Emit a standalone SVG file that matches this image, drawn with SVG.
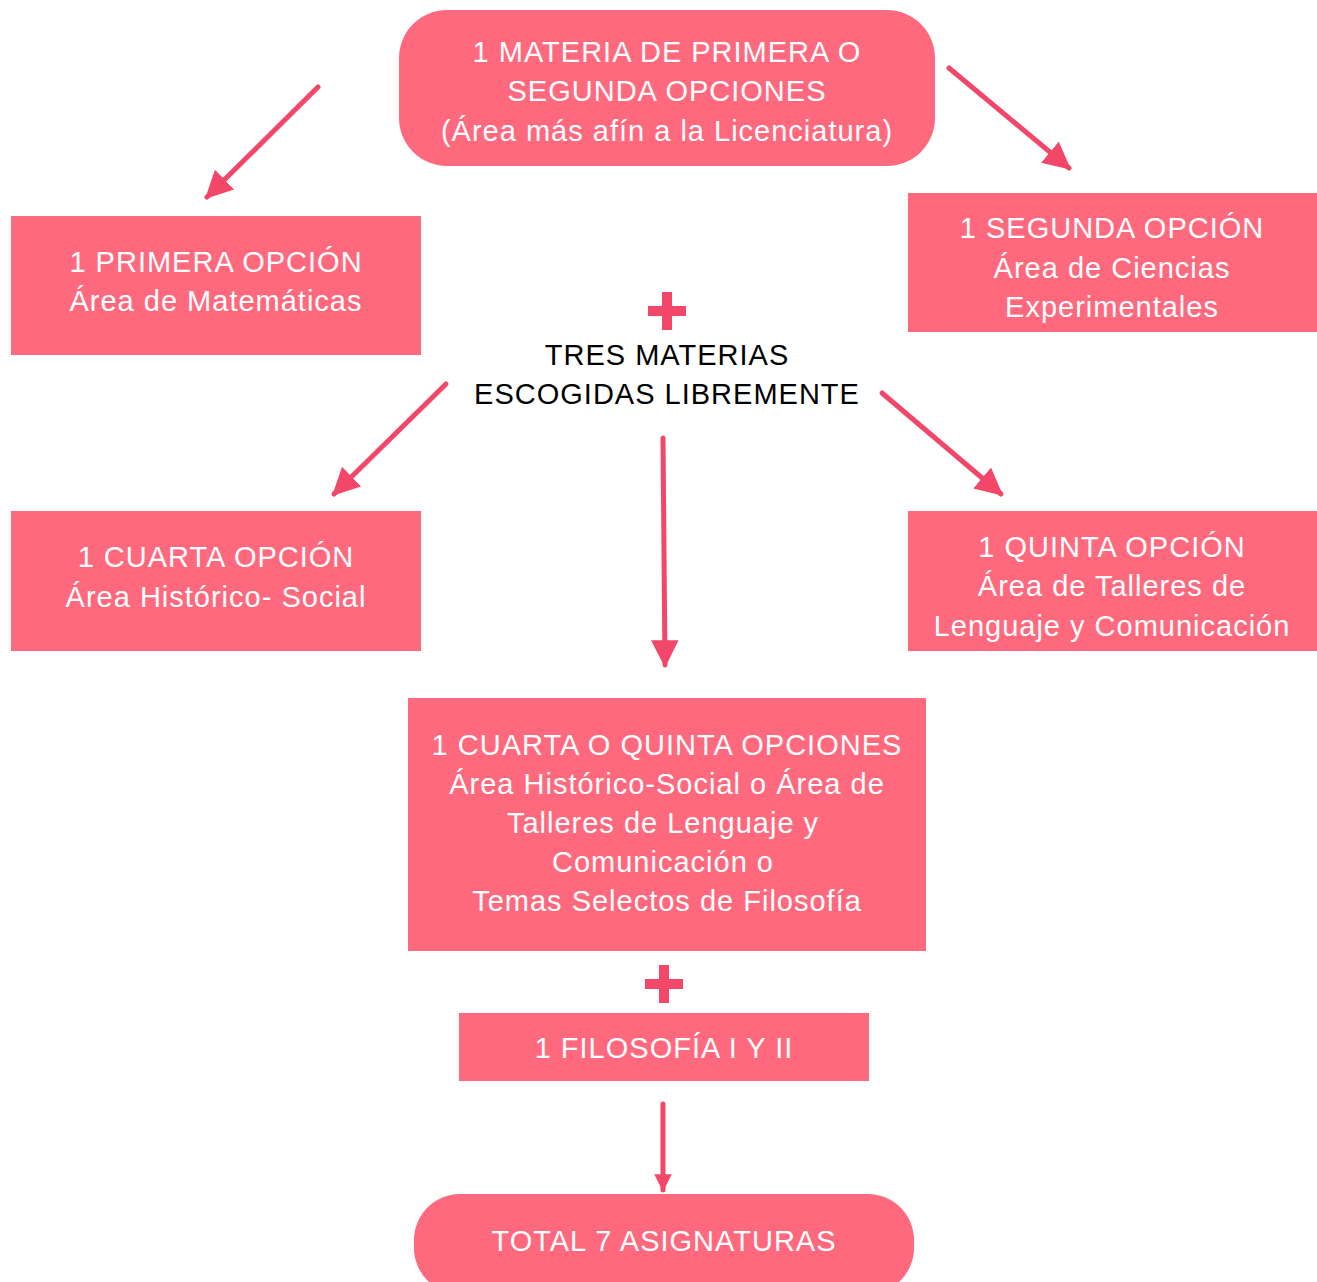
<svg xmlns="http://www.w3.org/2000/svg" width="1317" height="1282" viewBox="0 0 1317 1282">
<style>
.box{fill:#FF697E}
.t{font-family:"Liberation Sans",Arial,sans-serif;font-size:29px;letter-spacing:1px;fill:#fff;text-anchor:middle}
.k{font-family:"Liberation Sans",Arial,sans-serif;font-size:29px;letter-spacing:1px;fill:#000;text-anchor:middle}
.c{stroke:#F24769;stroke-width:5;stroke-linecap:round;fill:none}
.plus{fill:#F24769}
</style>
<defs>
<marker id="ah" viewBox="0 0 10 10" refX="9" refY="5" markerWidth="5.5" markerHeight="5.5" markerUnits="strokeWidth" orient="auto">
<path d="M0,0 L10,5 L0,10 z" fill="#F24769"/>
</marker>
<marker id="ahb" viewBox="0 0 10 10" refX="9" refY="5" markerWidth="5.5" markerHeight="6.5" markerUnits="strokeWidth" orient="auto">
<path d="M0,0 L10,5 L0,10 z" fill="#F24769"/>
</marker>
<marker id="ahs" viewBox="0 0 10 10" refX="9" refY="5" markerWidth="3.5" markerHeight="3.5" markerUnits="strokeWidth" orient="auto">
<path d="M0,0 L10,5 L0,10 z" fill="#F24769"/>
</marker>
</defs>
<rect width="1317" height="1282" fill="#fff"/>
<g id="connectors">
<line class="c" x1="318" y1="87" x2="207" y2="197" marker-end="url(#ah)"/>
<line class="c" x1="949" y1="68" x2="1069" y2="168" marker-end="url(#ah)"/>
<line class="c" x1="446" y1="384" x2="334" y2="494" marker-end="url(#ah)"/>
<line class="c" x1="882" y1="393" x2="1001" y2="494" marker-end="url(#ah)"/>
<line class="c" x1="663" y1="438" x2="665" y2="665" marker-end="url(#ahb)"/>
<line class="c" x1="663" y1="1104" x2="663" y2="1190" marker-end="url(#ahs)"/>
</g>
<g id="top">
<rect class="box" x="399" y="10" width="536" height="156" rx="48"/>
<text class="t" x="667" y="62">1 MATERIA DE PRIMERA O</text>
<text class="t" x="667" y="101">SEGUNDA OPCIONES</text>
<text class="t" x="667" y="141">(Área más afín a la Licenciatura)</text>
</g>
<g id="primera">
<rect class="box" x="11" y="216" width="410" height="139"/>
<text class="t" x="216" y="272">1 PRIMERA OPCIÓN</text>
<text class="t" x="216" y="311">Área de Matemáticas</text>
</g>
<g id="segunda">
<rect class="box" x="908" y="193" width="409" height="139"/>
<text class="t" x="1112" y="238">1 SEGUNDA OPCIÓN</text>
<text class="t" x="1112" y="278">Área de Ciencias</text>
<text class="t" x="1112" y="317">Experimentales</text>
</g>
<g id="tres">
<rect class="plus" x="648" y="306" width="38" height="10"/>
<rect class="plus" x="662" y="292" width="10" height="38"/>
<text class="k" x="667" y="365">TRES MATERIAS</text>
<text class="k" x="667" y="404">ESCOGIDAS LIBREMENTE</text>
</g>
<g id="cuarta">
<rect class="box" x="11" y="511" width="410" height="140"/>
<text class="t" x="216" y="567">1 CUARTA OPCIÓN</text>
<text class="t" x="216" y="607">Área Histórico- Social</text>
</g>
<g id="quinta">
<rect class="box" x="908" y="511" width="409" height="140"/>
<text class="t" x="1112" y="557">1 QUINTA OPCIÓN</text>
<text class="t" x="1112" y="596">Área de Talleres de</text>
<text class="t" x="1112" y="636">Lenguaje y Comunicación</text>
</g>
<g id="cuartaquinta">
<rect class="box" x="408" y="698" width="518" height="253"/>
<text class="t" x="667" y="755">1 CUARTA O QUINTA OPCIONES</text>
<text class="t" x="667" y="794">Área Histórico-Social o Área de</text>
<text class="t" x="663" y="833">Talleres de Lenguaje y</text>
<text class="t" x="663" y="872">Comunicación o</text>
<text class="t" x="667" y="911">Temas Selectos de Filosofía</text>
</g>
<g id="plus2">
<rect class="plus" x="645" y="979" width="38" height="10"/>
<rect class="plus" x="659" y="965" width="10" height="38"/>
</g>
<g id="filosofia">
<rect class="box" x="459" y="1013" width="410" height="68"/>
<text class="t" x="664" y="1058">1 FILOSOFÍA I Y II</text>
</g>
<g id="total">
<rect class="box" x="414" y="1194" width="500" height="100" rx="46"/>
<text class="t" x="664" y="1251">TOTAL 7 ASIGNATURAS</text>
</g>
</svg>
